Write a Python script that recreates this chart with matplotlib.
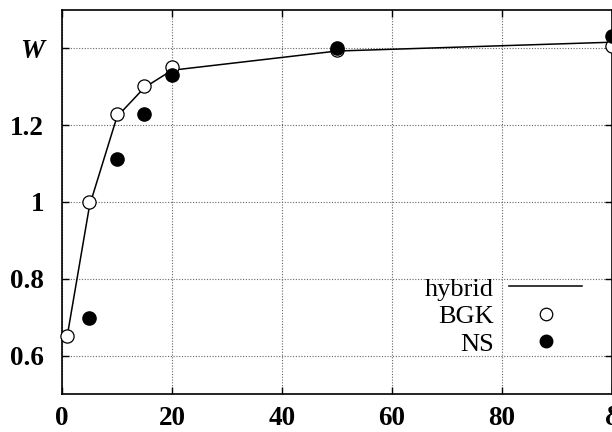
import matplotlib
matplotlib.use("Agg")
import matplotlib.pyplot as plt
from matplotlib.lines import Line2D

# Data
hybrid_x = [1, 5, 10, 15, 20, 50, 100]
hybrid_y = [0.655, 0.99, 1.222, 1.298, 1.343, 1.393, 1.416]
bgk_x = [1, 5, 10, 15, 20, 50, 100]
bgk_y = [0.652, 1.0, 1.23, 1.302, 1.351, 1.395, 1.405]
ns_x = [5, 10, 15, 20, 50, 100]
ns_y = [0.699, 1.113, 1.23, 1.33, 1.402, 1.431]

x_ticks = [0, 20, 40, 60, 80, 100]
x_labels = ['0', '20', '40', '60', '80', 'δ']
y_ticks = [0.6, 0.8, 1.0, 1.2, 1.4]
y_labels = ['0.6', '0.8', '1', '1.2', 'W']

plt.rcParams['font.family'] = ['Liberation Serif', 'DejaVu Serif']

fig = plt.figure(figsize=(6.12, 4.32), dpi=100)
ax = fig.add_axes([0.1013, 0.088, 0.8987, 0.889])

ax.plot(hybrid_x, hybrid_y, color='black', lw=1.1, clip_on=False, zorder=3)
ax.plot(bgk_x, bgk_y, 'o', ms=9.5, mfc='white', mec='black', mew=0.9,
        clip_on=False, zorder=4)
ax.plot(ns_x, ns_y, 'o', ms=9.5, mfc='black', mec='black', clip_on=False,
        zorder=5)

ax.set_xlim(0, 100)
ax.set_ylim(0.5, 1.5)
ax.set_xticks(x_ticks)
ax.set_xticklabels(x_labels)
ax.set_yticks(y_ticks)
ax.set_yticklabels(y_labels)

for lab in ax.get_xticklabels() + ax.get_yticklabels():
    lab.set_fontsize(19.5)
    lab.set_fontweight('bold')
ax.get_yticklabels()[-1].set_fontstyle('italic')

ax.tick_params(direction='in', length=5, width=1, top=True, right=True)
ax.tick_params(axis='y', pad=13)
ax.tick_params(axis='x', pad=9)
ax.grid(True, linestyle=(0, (1, 1.5)), color='#666666', lw=0.8)
for s in ax.spines.values():
    s.set_linewidth(1.2)

handles = [
    Line2D([], [], color='black', lw=1.1),
    Line2D([], [], marker='o', ls='none', ms=9, mfc='white', mec='black', mew=0.9),
    Line2D([], [], marker='o', ls='none', ms=9, mfc='black', mec='black'),
]
leg = ax.legend(handles, ['hybrid', 'BGK', 'NS'], loc='lower right',
                bbox_to_anchor=(0.979, 0.052), frameon=False, markerfirst=False,
                fontsize=19, handlelength=2.75, handletextpad=0.6,
                labelspacing=0.15, borderpad=0.2)
for t in leg.get_texts():
    t.set_ha('right')

fig.savefig('out.png', dpi=100)
